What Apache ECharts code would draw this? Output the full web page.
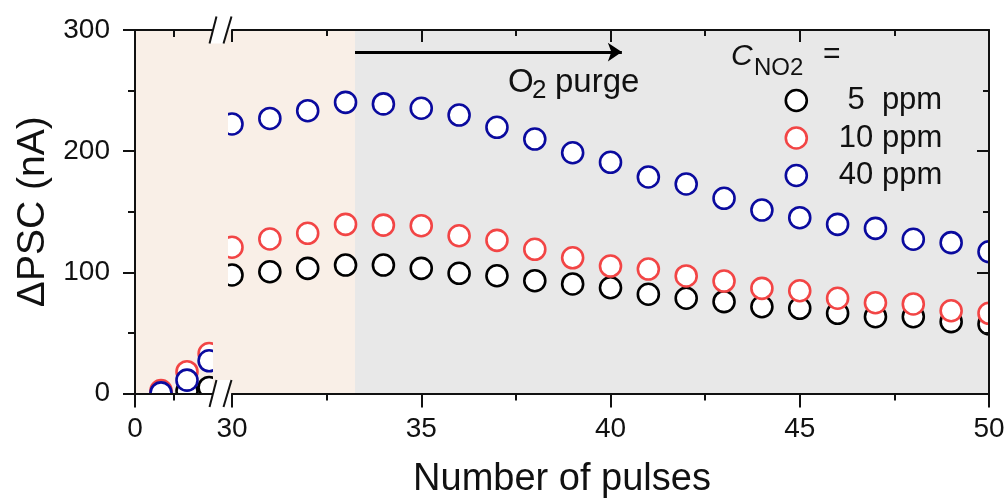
<!DOCTYPE html>
<html>
<head>
<meta charset="utf-8">
<script src="https://cdn.jsdelivr.net/npm/echarts@6.0.0/dist/echarts.min.js"></script>
<style>
  html, body { margin: 0; padding: 0; background: #fff; }
  #main { width: 1008px; height: 499px; }
</style>
</head>
<body>
<div id="main"></div>
<script>
// pulses before the axis break, and during the O2 purge
const pulsesEarly = [1, 2, 2.85];
const pulsesPurge = [30, 31, 32, 33, 34, 35, 36, 37, 38, 39, 40, 41, 42, 43, 44, 45, 46, 47, 48, 49, 50];

// ΔPSC (nA) for each NO2 concentration
const ppm5Early = [0, 2, 5];
const ppm10Early = [2.5, 18, 33];
const ppm40Early = [0.5, 11, 27];
const ppm5 = [97.8, 100.5, 103.3, 106, 106, 103.3, 99.2, 97.2, 93.1, 90.4, 87.3, 81.9, 78.6, 75.8, 71.6, 70.3, 66.2, 63.4, 63.4, 59.3, 57.4];
const ppm10 = [120.7, 127.5, 132.2, 139.6, 139, 138.5, 130.2, 126.4, 119, 112, 105.2, 102.7, 97, 92.8, 86.8, 84.8, 78.6, 74.9, 73.9, 68.3, 66.2];
const ppm40 = [222.4, 227, 233.4, 240.3, 239, 235.4, 229.8, 219.7, 210, 198.7, 190.8, 178.7, 172.9, 161.1, 151.4, 145.1, 139.6, 136.3, 127.3, 124.5, 117];

const seriesNames = ['5 ppm', '10 ppm', '40 ppm'];
const legendLabels = { '5 ppm': ' 5  ppm', '10 ppm': '10 ppm', '40 ppm': '40 ppm' };

// tick labels
const earlyTickLabels = [0];
const earlyMinorTicks = [1.5];

// purge annotation
const purgeStart = 33.25;
const arrowEnd = 40.3;
const arrowLevel = 281.8;

const FONT = 'Liberation Sans, Arial, sans-serif';
const INK = '#111';
const BEIGE = '#f9efe7';
const colors = ['#000000', '#f24545', '#0a0a9e'];

const zip = (xs, ys) => xs.map((x, i) => [x, ys[i]]);
const lineStyle = { color: INK, width: 2 };

function dots(name, color, xIdx, yIdx, xs, ys) {
  return {
    name: name,
    type: 'scatter',
    xAxisIndex: xIdx,
    yAxisIndex: yIdx,
    data: zip(xs, ys),
    symbol: 'circle',
    symbolSize: 21,
    z: 2,
    silent: true,
    itemStyle: { color: '#fff', borderColor: color, borderWidth: 2.6, opacity: 1 }
  };
}

const chart = echarts.init(document.getElementById('main'), null, { renderer: 'canvas' });

const option = {
  animation: false,
  textStyle: { fontFamily: FONT },
  grid: [
    { left: 135, top: 30, width: 78, height: 363.5, show: true, backgroundColor: BEIGE, borderWidth: 0 },
    { left: 232, top: 30, width: 757, height: 363.5, show: true, backgroundColor: BEIGE, borderWidth: 0 }
  ],
  xAxis: [
    {
      gridIndex: 0, type: 'value', position: 'bottom', min: 0, max: 3, z: 10,
      axisLine: { show: true, onZero: false, lineStyle: lineStyle },
      axisTick: { show: true, customValues: earlyTickLabels, length: 14, lineStyle: lineStyle },
      axisLabel: { customValues: earlyTickLabels, fontSize: 28, margin: 22, color: INK, fontFamily: FONT },
      splitLine: { show: false }
    },
    {
      gridIndex: 0, type: 'value', position: 'bottom', min: 0, max: 3, z: 10,
      axisLine: { show: false, onZero: false },
      axisTick: { show: true, customValues: earlyMinorTicks, length: 7, lineStyle: lineStyle },
      axisLabel: { show: false },
      splitLine: { show: false }
    },
    {
      gridIndex: 0, type: 'value', position: 'top', min: 0, max: 3, z: 10,
      axisLine: { show: true, onZero: false, lineStyle: lineStyle },
      axisTick: { show: true, inside: true, customValues: earlyMinorTicks, length: 7, lineStyle: lineStyle },
      axisLabel: { show: false },
      splitLine: { show: false }
    },
    {
      gridIndex: 1, type: 'value', position: 'bottom', min: 30, max: 50, interval: 5, z: 10,
      axisLine: { show: true, onZero: false, lineStyle: lineStyle },
      axisTick: { show: true, length: 14, lineStyle: lineStyle },
      minorTick: { show: true, splitNumber: 2, length: 7, lineStyle: lineStyle },
      axisLabel: { fontSize: 28, margin: 22, color: INK, fontFamily: FONT },
      splitLine: { show: false },
      minorSplitLine: { show: false }
    },
    {
      gridIndex: 1, type: 'value', position: 'top', min: 30, max: 50, interval: 5, z: 10,
      axisLine: { show: true, onZero: false, lineStyle: lineStyle },
      axisTick: { show: true, inside: true, length: 12, lineStyle: lineStyle },
      minorTick: { show: true, splitNumber: 2, length: 6, lineStyle: lineStyle },
      axisLabel: { show: false },
      splitLine: { show: false },
      minorSplitLine: { show: false }
    }
  ],
  yAxis: [
    {
      gridIndex: 0, type: 'value', position: 'left', min: 0, max: 300, interval: 100, z: 10,
      name: '\u0394PSC (nA)', nameLocation: 'middle', nameGap: 82,
      nameTextStyle: { fontSize: 39, color: INK, fontFamily: FONT },
      axisLine: { show: true, onZero: false, lineStyle: lineStyle },
      axisTick: { show: true, length: 12, lineStyle: lineStyle },
      minorTick: { show: true, splitNumber: 2, length: 7, lineStyle: lineStyle },
      axisLabel: { fontSize: 28, margin: 25, color: INK, fontFamily: FONT },
      splitLine: { show: false },
      minorSplitLine: { show: false }
    },
    {
      gridIndex: 1, type: 'value', position: 'right', min: 0, max: 300, interval: 100, z: 10,
      axisLine: { show: true, onZero: false, lineStyle: lineStyle },
      axisTick: { show: true, inside: true, length: 12, lineStyle: lineStyle },
      minorTick: { show: true, splitNumber: 2, length: 6, lineStyle: lineStyle },
      axisLabel: { show: false },
      splitLine: { show: false },
      minorSplitLine: { show: false }
    }
  ],
  legend: {
    data: seriesNames,
    orient: 'vertical',
    left: 779.5,
    top: 80,
    itemWidth: 21,
    itemHeight: 21,
    itemGap: 6.5,
    selectedMode: false,
    formatter: function(name) {
      return legendLabels[name]
    },
    itemStyle: { borderWidth: 2.6 },
    textStyle: { fontSize: 31, lineHeight: 31, color: INK, fontFamily: FONT, padding: [0, 0, 0, 27] }
  },
  series: [
    // grey purge zone
    {
      name: 'purge', type: 'scatter', xAxisIndex: 3, yAxisIndex: 1, data: [], z: 1, silent: true,
      markArea: {
        silent: true,
        itemStyle: { color: '#e8e8e8' },
        data: [[{ xAxis: purgeStart }, { xAxis: 50 }]]
      }
    },
    dots(seriesNames[0], colors[0], 0, 0, pulsesEarly, ppm5Early),
    dots(seriesNames[1], colors[1], 0, 0, pulsesEarly, ppm10Early),
    dots(seriesNames[2], colors[2], 0, 0, pulsesEarly, ppm40Early),
    dots(seriesNames[0], colors[0], 3, 1, pulsesPurge, ppm5),
    dots(seriesNames[1], colors[1], 3, 1, pulsesPurge, ppm10),
    dots(seriesNames[2], colors[2], 3, 1, pulsesPurge, ppm40),
    // O2 purge arrow
    {
      name: 'arrow', type: 'scatter', xAxisIndex: 3, yAxisIndex: 1, data: [], z: 4, silent: true,
      markLine: {
        silent: true,
        symbol: ['none', 'arrow'],
        symbolSize: 14,
        label: { show: false },
        lineStyle: { color: '#000', width: 3, type: 'solid' },
        data: [[{ coord: [purgeStart, arrowLevel] }, { coord: [arrowEnd, arrowLevel] }]]
      }
    }
  ],
  graphic: [
    // background inside the break, then masks that clip the markers like the plot frame does
    { type: 'rect', z: 1, silent: true, shape: { x: 213, y: 30, width: 19, height: 363.5 }, style: { fill: BEIGE } },
    { type: 'rect', z: 3, silent: true, shape: { x: 213, y: 31, width: 15, height: 362 }, style: { fill: BEIGE } },
    { type: 'rect', z: 3, silent: true, shape: { x: 100, y: 394.5, width: 140, height: 30 }, style: { fill: '#fff' } },
    { type: 'rect', z: 3, silent: true, shape: { x: 990, y: 0, width: 18, height: 499 }, style: { fill: '#fff' } },
    // axis break marks
    { type: 'polygon', z: 11, silent: true, shape: { points: [[209.5, 43.5], [216.5, 16.5], [231.5, 16.5], [223.5, 43.5]] }, style: { fill: '#fff' } },
    { type: 'polygon', z: 11, silent: true, shape: { points: [[209.5, 407], [216.5, 380], [231.5, 380], [223.5, 407]] }, style: { fill: '#fff' } },
    { type: 'line', z: 12, silent: true, shape: { x1: 209.5, y1: 43.5, x2: 216.5, y2: 16.5 }, style: { stroke: INK, lineWidth: 2 } },
    { type: 'line', z: 12, silent: true, shape: { x1: 223.5, y1: 43.5, x2: 231.5, y2: 16.5 }, style: { stroke: INK, lineWidth: 2 } },
    { type: 'line', z: 12, silent: true, shape: { x1: 209.5, y1: 407, x2: 216.5, y2: 380 }, style: { stroke: INK, lineWidth: 2 } },
    { type: 'line', z: 12, silent: true, shape: { x1: 223.5, y1: 407, x2: 231.5, y2: 380 }, style: { stroke: INK, lineWidth: 2 } },
    // x axis title
    { type: 'text', z: 12, silent: true, x: 562, y: 480, style: { text: 'Number of pulses', fill: INK, font: '38px ' + FONT, textAlign: 'center', textVerticalAlign: 'middle' } },
    // O2 purge label
    { type: 'text', z: 12, silent: true, x: 508, y: 83, style: { text: 'O', fill: INK, font: '33px ' + FONT, textAlign: 'left', textVerticalAlign: 'middle' } },
    { type: 'text', z: 12, silent: true, x: 532, y: 91, style: { text: '2', fill: INK, font: '26px ' + FONT, textAlign: 'left', textVerticalAlign: 'middle' } },
    { type: 'text', z: 12, silent: true, x: 555, y: 83, style: { text: 'purge', fill: INK, font: '33px ' + FONT, textAlign: 'left', textVerticalAlign: 'middle' } },
    // legend title C_NO2 =
    { type: 'text', z: 12, silent: true, x: 731, y: 57, style: { text: 'C', fill: INK, font: 'italic 30px ' + FONT, textAlign: 'left', textVerticalAlign: 'middle' } },
    { type: 'text', z: 12, silent: true, x: 754, y: 68, style: { text: 'NO2', fill: INK, font: '24px ' + FONT, textAlign: 'left', textVerticalAlign: 'middle' } },
    { type: 'text', z: 12, silent: true, x: 823, y: 55, style: { text: '=', fill: INK, font: '30px ' + FONT, textAlign: 'left', textVerticalAlign: 'middle' } }
  ]
};

chart.setOption(option);
window.addEventListener('resize', function() {
  chart.resize()
});
</script>
</body>
</html>
